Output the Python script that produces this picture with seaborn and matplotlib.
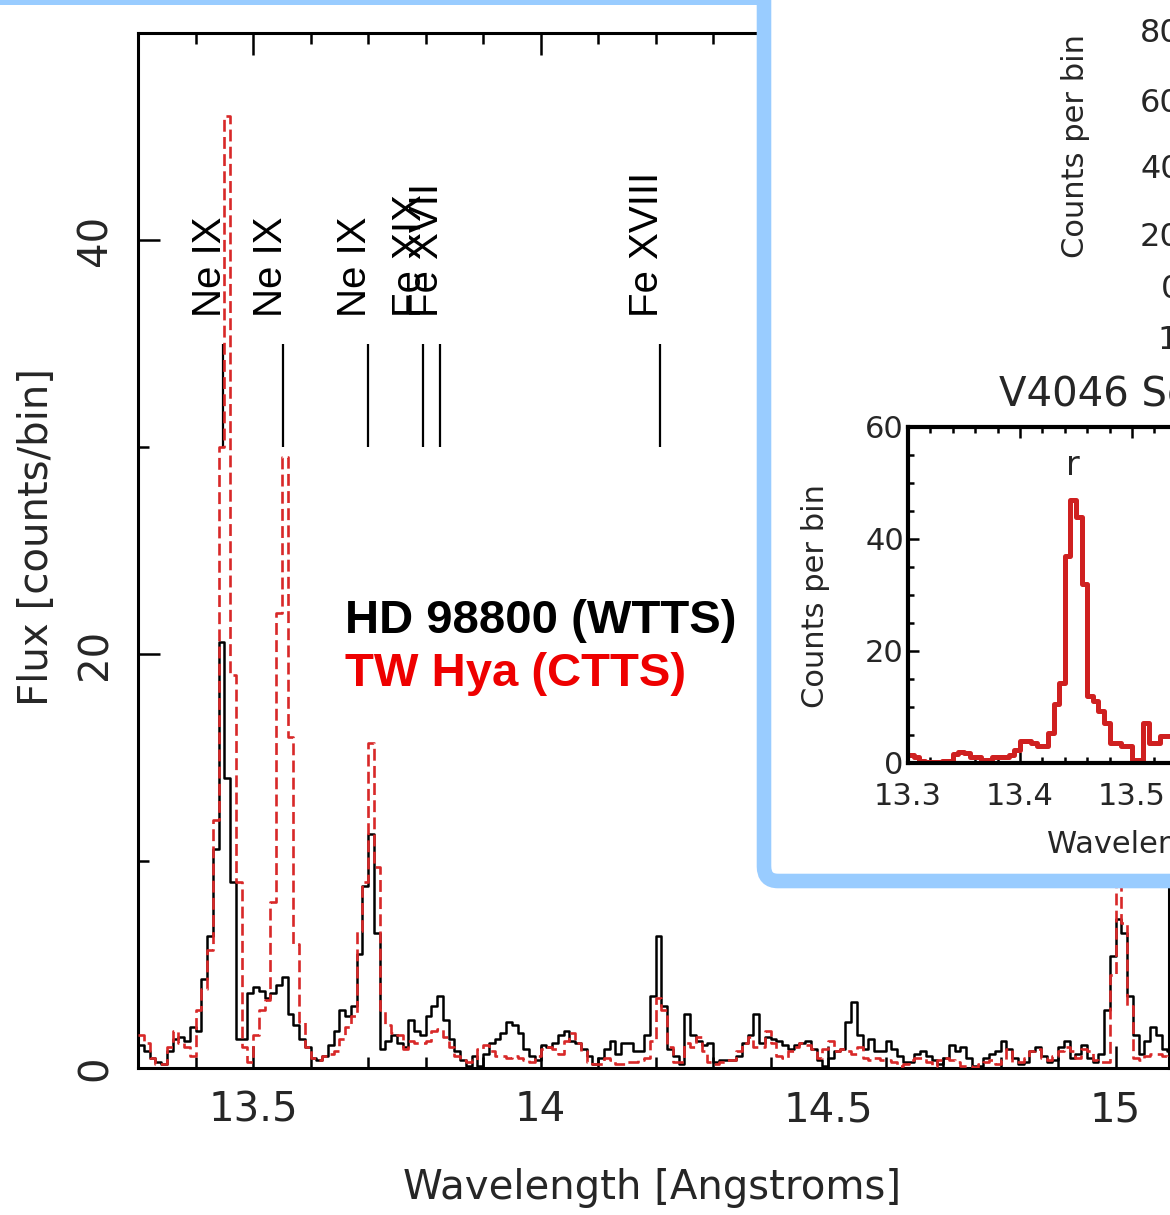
import numpy as np
import matplotlib
matplotlib.use("Agg")
import matplotlib.pyplot as plt
from matplotlib.patches import FancyBboxPatch, Rectangle
from matplotlib.ticker import MultipleLocator
import matplotlib.transforms as mtransforms
import seaborn as sns

# ---------------- data ----------------
bin_start = 13.30
bin_width = 0.01

hd98800_counts = [
    1.1, 0.8, 0.5, 0.3, 0.2, 0.8, 1.4, 1.5, 1.3, 2.0,
    1.8, 4.3, 6.4, 10.6, 20.6, 14.0, 9.0, 1.4, 1.4, 3.6,
    3.9, 3.7, 3.4, 3.6, 4.0, 4.4, 2.6, 2.1, 1.4, 1.0,
    0.5, 0.4, 0.6, 1.1, 1.8, 2.8, 2.5, 3.0, 5.5, 8.8,
    11.3, 6.5, 0.9, 1.3, 1.6, 1.2, 1.0, 2.3, 1.8, 1.6,
    2.5, 3.0, 3.5, 2.3, 1.4, 0.8, 0.4, 0.1, 0.6, 0.1,
    0.7, 1.2, 1.4, 1.7, 2.2, 2.1, 1.7, 0.9, 0.6, 0.4,
    1.1, 1.0, 1.2, 1.6, 1.8, 1.3, 1.2, 0.9, 0.6, 0.2,
    0.5, 0.9, 1.3, 0.7, 1.2, 1.2, 0.8, 0.8, 1.6, 3.5,
    6.4, 3.0, 0.9, 0.6, 0.2, 2.6, 1.6, 1.3, 1.1, 1.2,
    0.3, 0.4, 0.4, 0.4, 0.6, 1.2, 1.6, 2.6, 1.2, 1.5,
    1.4, 1.3, 1.1, 0.9, 1.1, 1.2, 1.3, 0.9, 0.4, 0.1,
    0.5, 0.8, 0.9, 2.2, 3.2, 1.6, 0.9, 1.4, 0.8, 0.8,
    1.3, 0.9, 0.6, 0.3, 0.3, 0.7, 0.8, 0.6, 0.4, 0.2,
    0.5, 1.1, 0.8, 1.0, 0.5, 0.1, 0.1, 0.5, 0.7, 0.8,
    1.3, 0.9, 0.5, 0.2, 0.3, 0.8, 1.0, 0.6, 0.3, 0.4,
    1.0, 1.3, 0.5, 0.7, 1.1, 0.5, 0.3, 0.7, 2.8, 5.4,
    7.2, 6.5, 3.5, 1.6, 0.7, 1.3, 2.0, 1.6, 0.9, 0.8,
]

twhya_counts = [
    1.6, 1.2, 0.5, 0.2, 0.2, 1.0, 1.8, 1.2, 1.0, 0.6,
    2.8, 3.8, 5.7, 12.0, 30.0, 46.0, 19.0, 9.0, 1.0, 0.3,
    1.6, 2.8, 3.3, 8.0, 22.0, 29.5, 16.0, 6.0, 2.2, 1.0,
    0.5, 0.4, 0.6, 0.7, 0.8, 1.4, 2.0, 2.5, 6.6, 9.0,
    15.7, 9.7, 2.8, 2.1, 1.7, 1.6, 0.9, 1.3, 1.2, 1.2,
    1.3, 1.8, 1.9, 1.5, 1.0, 0.6, 0.4, 0.3, 0.4, 0.9,
    1.1, 0.8, 0.6, 0.6, 0.5, 0.6, 0.5, 0.4, 0.3, 0.6,
    0.9, 1.0, 0.9, 0.7, 1.3, 1.7, 1.2, 0.8, 0.3, 0.2,
    0.2, 0.5, 0.4, 0.2, 0.2, 0.3, 0.3, 0.4, 0.5, 1.3,
    3.4, 2.8, 1.0, 0.3, 0.3, 1.2, 1.0, 1.5, 0.8, 0.3,
    0.2, 0.3, 0.4, 0.4, 0.8, 1.2, 1.5, 1.0, 1.0, 1.8,
    1.2, 0.6, 0.5, 0.8, 1.0, 1.2, 1.1, 0.9, 0.5, 0.9,
    1.3, 0.8, 0.9, 0.8, 0.7, 1.0, 0.5, 0.4, 0.5, 0.4,
    0.4, 0.3, 0.1, 0.2, 0.4, 0.5, 0.5, 0.3, 0.1, 0.4,
    0.5, 0.4, 0.3, 0.1, 0.1, 0.05, 0.2, 0.3, 0.4, 0.2,
    0.4, 0.9, 0.3, 0.3, 0.5, 0.8, 0.9, 0.5, 0.4, 0.6,
    0.8, 1.0, 0.8, 0.5, 0.9, 0.8, 0.4, 0.3, 0.3, 4.5,
    8.8, 7.0, 3.0, 0.5, 0.4, 0.6, 0.7, 0.7, 0.6, 0.5,
]

line_wavelengths = [13.447, 13.553, 13.700, 13.795, 13.825, 14.208]
line_labels = ["Ne IX", "Ne IX", "Ne IX", "Fe XIX", "Fe XVII", "Fe XVIII"]
line_ymin, line_ymax, label_y = 30.0, 35.0, 36.3

xticks_main = [13.5, 14.0, 14.5, 15.0]
xtick_labels_main = ["13.5", "14", "14.5", "15"]
yticks_main = [0, 20, 40]
ytick_labels_main = ["0", "20", "40"]

# inset (V4046 Sgr)
inset_start = 13.300
inset_width = 0.005
v4046_counts = [
    1.5, 1.0, 0.3, 0.2, 0.2, 0.2, 0.3, 0.4, 1.6, 2.0,
    1.8, 1.0, 1.0, 0.5, 0.5, 1.0, 1.0, 1.1, 1.5, 2.4,
    3.9, 3.9, 3.6, 3.0, 3.0, 5.4, 10.5, 14.3, 37.0, 47.0,
    44.0, 32.0, 12.0, 11.0, 9.3, 7.2, 3.6, 3.6, 3.0, 3.0,
    0.6, 0.6, 7.2, 3.6, 3.6, 4.8, 4.8,
]
inset_xticks = [13.3, 13.4, 13.5, 13.6]
inset_xtick_labels = ["13.3", "13.4", "13.5", "13.6"]
inset_yticks = [0, 20, 40, 60]
upper_inset_ytick_labels = ["80", "60", "40", "20", "0"]

# ---------------- figure ----------------
W, H = 1170, 1215
sns.set_style("ticks")
plt.rcParams["font.family"] = ["DejaVu Sans"]
fig = plt.figure(figsize=(W / 100, H / 100), dpi=100)


def px(x0, y0, x1, y1):
    """pixel box (top-left origin) -> figure fraction [l, b, w, h]"""
    return [x0 / W, 1 - y1 / H, (x1 - x0) / W, (y1 - y0) / H]


ax = fig.add_axes(px(138, 33, 1169, 1068))

def step_xy(start, width, counts):
    n = len(counts)
    x = start + width * np.arange(n + 1)
    y = np.append(np.asarray(counts, float), counts[-1])
    return x, y

bx, by = step_xy(bin_start, bin_width, hd98800_counts)
rx, ry = step_xy(bin_start, bin_width, twhya_counts)

sns.lineplot(x=bx, y=by, drawstyle="steps-post", color="black", linewidth=1.8,
             estimator=None, sort=False, ax=ax, zorder=3)
sns.lineplot(x=rx, y=ry, drawstyle="steps-post", color="#d82828", linewidth=1.9,
             estimator=None, sort=False, ax=ax, zorder=4)
ax.lines[-1].set_linestyle("--")
ax.lines[-1].set_dashes([4.5, 2.0])

ax.vlines(line_wavelengths, line_ymin, line_ymax, color="black", linewidth=1.6)
for wl, lab in zip(line_wavelengths, line_labels):
    ax.text(wl + 0.011, label_y, lab, rotation=90, ha="right", va="bottom",
            fontsize=29, family="Liberation Sans", color="black")

ax.text(13.66, 21.6, "HD 98800 (WTTS)", fontsize=34, fontweight="bold",
        family="Liberation Sans", color="black", ha="left", va="center")
ax.text(13.66, 19.05, "TW Hya (CTTS)", fontsize=34, fontweight="bold",
        family="Liberation Sans", color="#ee0000", ha="left", va="center")

ax.set_xlim(13.3, 15.093)
ax.set_ylim(0, 50)
ax.set_xticks(xticks_main)
ax.set_xticklabels(xtick_labels_main, fontsize=29)
ax.set_yticks(yticks_main)
ax.set_yticklabels(ytick_labels_main, fontsize=29, rotation=90, va="center")
ax.xaxis.set_minor_locator(MultipleLocator(0.1))
ax.yaxis.set_minor_locator(MultipleLocator(10))
ax.tick_params(which="both", direction="in", top=True, right=True, width=1.8, color="black")
ax.tick_params(which="major", length=16)
ax.tick_params(which="minor", length=8)
ax.tick_params(axis="x", which="major", pad=16)
ax.tick_params(axis="y", which="major", pad=16)
for s in ax.spines.values():
    s.set_linewidth(2.2)
    s.set_color("black")
ax.set_xlabel("Wavelength [Angstroms]", fontsize=29)
ax.set_ylabel("Flux [counts/bin]", fontsize=29)
ax.xaxis.set_label_coords(0.4985, -0.097)
ax.yaxis.set_label_coords(-0.079, 0.513)
ax.set_facecolor("white")

# ---------------- overlay panel ----------------
blue = "#99ccff"
frame = FancyBboxPatch((764 / W, 1 - 881 / H), 1.0, 1.0,
                       boxstyle="round,pad=0,rounding_size=0.012",
                       transform=fig.transFigure, facecolor="white",
                       edgecolor=blue, linewidth=10.5, zorder=5)
fig.patches.append(frame)
topbar = Rectangle((0, 1 - 5 / H), 766 / W, 6 / H, transform=fig.transFigure,
                   facecolor=blue, edgecolor="none", zorder=5)
fig.patches.append(topbar)

# lower inset axes (V4046 Sgr)
ax2 = fig.add_axes(px(908, 427, 1300, 763))
ax2.set_zorder(6)
ix, iy = step_xy(inset_start, inset_width, v4046_counts)
sns.lineplot(x=ix, y=iy, drawstyle="steps-post", color="#cf2020", linewidth=3.6,
             estimator=None, sort=False, ax=ax2)
ax2.set_xlim(13.3, 13.65)
ax2.set_ylim(0, 60)
ax2.set_xticks(inset_xticks)
ax2.set_xticklabels(inset_xtick_labels, fontsize=22)
ax2.set_yticks(inset_yticks)
ax2.set_yticklabels([str(v) for v in inset_yticks], fontsize=22)
# end labels sit slightly inside the axis range, as in the original
shifts = {0: 10, 60: -10}
for lab, v in zip(ax2.get_yticklabels(), inset_yticks):
    if v in shifts:
        lab.set_transform(lab.get_transform() +
                          mtransforms.ScaledTranslation(0, shifts[v] / 100, fig.dpi_scale_trans))
ax2.xaxis.set_minor_locator(MultipleLocator(0.02))
ax2.yaxis.set_minor_locator(MultipleLocator(5))
ax2.tick_params(which="both", direction="in", top=True, right=True, width=1.8, color="black")
ax2.tick_params(which="major", length=8)
ax2.tick_params(which="minor", length=4)
ax2.tick_params(axis="x", which="major", pad=14)
ax2.tick_params(axis="y", which="major", pad=3)
for s in ax2.spines.values():
    s.set_linewidth(3.0)
    s.set_color("black")
ax2.text(13.447, 53.2, "r", fontsize=24, ha="center", va="center")
ax2.set_facecolor("white")

def ftext(x, y, s, **kw):
    t = fig.text(x / W, 1 - y / H, s, **kw)
    t.set_zorder(7)
    return t

ftext(815, 596, "Counts per bin", rotation=90, ha="center", va="center", fontsize=22)
ftext(1047, 842, "Wavelength (Å)", ha="left", va="center", fontsize=22)

# fragments of the upper inset (V4046 Sgr, upper panel)
ftext(1075, 146, "Counts per bin", rotation=90, ha="center", va="center", fontsize=22)
for lab, yy in zip(upper_inset_ytick_labels, [33, 103, 170, 238, 290]):
    ftext(1181, yy, lab, ha="right", va="center", fontsize=23)
ftext(1157, 340, inset_xtick_labels[0], ha="left", va="center", fontsize=23)
ftext(999, 395, "V4046 Sgr", ha="left", va="center", fontsize=29)

fig.savefig("out.png", dpi=100)
